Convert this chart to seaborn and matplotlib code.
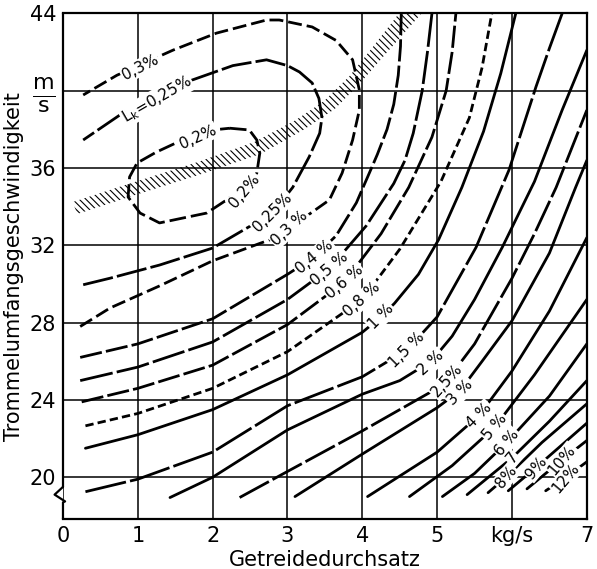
import numpy as np
import matplotlib
matplotlib.use("Agg")
import matplotlib.pyplot as plt
import seaborn as sns

# ---- data (x: Getreidedurchsatz kg/s, y: Trommelumfangsgeschwindigkeit m/s)
q020_x = [2.23, 2.49, 2.59, 2.63, 2.59, 2.43, 1.92, 1.29, 1.03, 0.87, 0.89, 0.99, 1.25, 1.65, 2.00, 2.23]
q020_y = [38.06, 37.97, 37.45, 36.78, 35.74, 34.97, 33.67, 33.16, 33.67, 34.50, 35.54, 36.26, 36.83, 37.55, 37.97, 38.06]
q025_x = [0.27, 0.63, 1.29, 2.00, 2.80, 3.07, 3.29, 3.43, 3.46, 3.42, 3.33, 3.16, 3.00, 2.72, 2.27, 1.65, 0.80, 0.27]
q025_y = [29.96, 30.30, 30.98, 31.86, 33.67, 35.00, 36.58, 37.80, 38.60, 39.60, 40.40, 40.97, 41.30, 41.60, 41.30, 40.45, 38.85, 37.45]
q030_x = [0.23, 0.63, 1.29, 2.00, 2.63, 2.99, 3.25, 3.56, 3.73, 3.87, 3.96, 3.96, 3.87, 3.65, 3.33, 2.89, 2.72, 2.05, 1.47, 0.72, 0.27]
q030_y = [27.80, 28.76, 29.90, 31.20, 32.10, 32.60, 33.50, 34.35, 35.74, 37.45, 39.00, 40.04, 41.60, 42.60, 43.30, 43.66, 43.66, 42.98, 42.10, 40.80, 39.78]
q040_x = [0.23, 1.0, 2.0, 3.0, 3.36, 3.65, 3.92, 4.10, 4.20, 4.33, 4.42, 4.48, 4.51, 4.52]
q040_y = [26.2, 26.9, 28.2, 30.5, 31.4, 32.5, 34.2, 35.8, 36.7, 38.0, 39.3, 40.8, 42.3, 44.0]
q050_x = [0.23, 1.0, 2.0, 3.0, 3.56, 4.05, 4.42, 4.57, 4.68, 4.80, 4.87, 4.93]
q050_y = [25.0, 25.7, 27.0, 29.2, 30.8, 33.0, 35.2, 36.4, 37.8, 40.0, 42.0, 44.0]
q060_x = [0.25, 1.0, 2.0, 3.0, 3.76, 4.25, 4.62, 4.93, 5.12, 5.20, 5.25]
q060_y = [23.9, 24.6, 25.8, 27.9, 30.1, 32.6, 35.0, 37.6, 40.0, 42.0, 44.0]
q080_x = [0.30, 1.0, 2.0, 3.0, 4.00, 4.50, 5.05, 5.43, 5.60, 5.73]
q080_y = [22.66, 23.3, 24.6, 26.5, 29.2, 31.8, 35.3, 38.6, 41.2, 44.0]
q100_x = [0.30, 1.0, 2.0, 3.0, 4.00, 4.25, 4.43, 4.75, 5.02, 5.33, 5.62, 5.85, 6.05]
q100_y = [21.5, 22.2, 23.5, 25.3, 27.5, 28.3, 29.0, 30.5, 32.3, 35.0, 37.9, 40.9, 44.0]
q150_x = [0.30, 1.0, 2.0, 3.0, 4.0, 4.60, 5.00, 5.52, 5.96, 6.32, 6.50, 6.67]
q150_y = [19.25, 19.9, 21.3, 23.7, 25.2, 26.6, 28.3, 31.9, 35.9, 40.2, 42.2, 44.0]
q200_x = [1.43, 2.0, 3.0, 4.0, 4.50, 4.92, 5.20, 5.50, 5.87, 6.30, 6.67, 7.0]
q200_y = [18.95, 20.0, 22.45, 24.3, 25.0, 26.0, 27.3, 29.2, 31.9, 35.3, 39.0, 42.1]
q250_x = [2.36, 3.0, 4.0, 5.0, 5.13, 5.50, 6.0, 6.30, 6.59, 7.0]
q250_y = [18.95, 20.3, 22.4, 24.6, 25.0, 26.9, 30.3, 32.6, 35.0, 39.0]
q300_x = [3.10, 4.0, 5.0, 5.31, 5.60, 6.0, 6.50, 6.85, 7.0]
q300_y = [19.0, 21.2, 23.6, 24.5, 26.0, 28.1, 31.6, 35.0, 36.4]
q400_x = [4.07, 5.0, 5.56, 6.0, 6.5, 7.0]
q400_y = [19.0, 21.3, 23.2, 25.5, 28.6, 32.4]
q500_x = [4.63, 5.2, 5.77, 6.3, 7.0]
q500_y = [19.0, 20.6, 22.6, 25.3, 29.2]
q600_x = [5.07, 5.5, 5.93, 6.5, 7.0]
q600_y = [19.0, 20.2, 21.8, 24.2, 26.9]
q700_x = [5.40, 6.0, 6.5, 7.0]
q700_y = [19.1, 21.0, 22.9, 25.0]
q800_x = [5.68, 5.92, 6.4, 7.0]
q800_y = [19.2, 20.0, 21.8, 23.8]
q900_x = [5.95, 6.32, 7.0]
q900_y = [19.3, 20.5, 22.8]
q1000_x = [6.20, 6.67, 7.0]
q1000_y = [19.4, 20.9, 21.9]
q1200_x = [6.45, 6.72, 7.0]
q1200_y = [19.3, 20.0, 20.8]

# hatched optimum band (upper and lower edge)
band_up_x = [0.13, 0.87, 1.80, 2.56, 3.11, 3.49, 3.83, 4.15, 4.49]
band_up_y = [34.24, 35.17, 36.31, 37.35, 38.48, 39.47, 40.76, 42.31, 44.0]
band_lo_x = [0.19, 0.92, 1.85, 2.64, 3.21, 3.63, 3.96, 4.31, 4.79]
band_lo_y = [33.62, 34.55, 35.69, 36.73, 37.97, 39.05, 40.35, 41.90, 44.0]

x_ticks = [0, 1, 2, 3, 4, 5, 6, 7]
x_ticklabels = ["0", "1", "2", "3", "4", "5", "kg/s", "7"]
y_ticks = [20, 24, 28, 32, 36, 40, 44]
y_ticklabels = ["20", "24", "28", "32", "36", r"$\frac{\mathrm{m}}{\mathrm{s}}$", "44"]

label_texts = ["0,3%", r"$\mathrm{L_k}$=0,25%", "0,2%", "0,2%", "0,25%", "0,3 %", "0,4 %", "0,5 %",
               "0,6 %", "0,8 %", "1 %", "1,5 %", "2 %", "2,5%", "3 %", "4 %", "5 %", "6 %", "7",
               "8%", "9%", "10%", "12%"]

# ---- styling
sns.set_theme(style="white")
plt.rcParams['font.family'] = ['DejaVu Sans']
plt.rcParams['hatch.linewidth'] = 0.8
plt.rcParams['axes.edgecolor'] = 'black'
plt.rcParams['text.color'] = 'black'
plt.rcParams['axes.labelcolor'] = 'black'

fig = plt.figure(figsize=(5.97, 5.69), dpi=100)
ax = fig.add_axes([0.1055, 0.0879, 0.8775, 0.8885])
ax.set_xlim(0, 7)
ax.set_ylim(17.84, 44)

LW = 2.0
curves = [
    (q020_x, q020_y, (0, (6, 1.8))),
    (q025_x, q025_y, (0, (11, 1.5))),
    (q030_x, q030_y, (0, (5, 1.8))),
    (q040_x, q040_y, (0, (8, 1.5))),
    (q050_x, q050_y, (0, (12, 1.5))),
    (q060_x, q060_y, (0, (8, 1.5))),
    (q080_x, q080_y, (0, (3, 1.5))),
    (q100_x, q100_y, '-'),
    (q150_x, q150_y, (0, (15, 1.5))),
    (q200_x, q200_y, '-'),
    (q250_x, q250_y, (0, (12, 1.5))),
    (q300_x, q300_y, '-'),
    (q400_x, q400_y, '-'),
    (q500_x, q500_y, '-'),
    (q600_x, q600_y, '-'),
    (q700_x, q700_y, '-'),
    (q800_x, q800_y, '-'),
    (q900_x, q900_y, '-'),
    (q1000_x, q1000_y, '-'),
    (q1200_x, q1200_y, '-'),
]

# hatched band
poly_x = list(band_up_x) + list(band_lo_x[::-1])
poly_y = list(band_up_y) + list(band_lo_y[::-1])
ax.fill(poly_x, poly_y, facecolor='none', edgecolor='black', hatch='\\\\\\\\\\', linewidth=0, zorder=1)

for xs, ys, ls in curves:
    sns.lineplot(x=xs, y=ys, sort=False, estimator=None, color='black',
                 linewidth=LW, linestyle=ls, ax=ax, zorder=3)

# labels placed on the curves
label_pos = [(1.03, 41.2, 27), (1.25, 39.55, 30), (1.80, 37.6, 24), (2.43, 34.8, 50),
             (2.80, 33.7, 45), (3.03, 32.9, 43), (3.36, 31.4, 40), (3.56, 30.8, 40),
             (3.76, 30.1, 40), (4.00, 29.2, 42), (4.25, 28.3, 45), (4.60, 26.6, 45),
             (4.92, 25.9, 42), (5.13, 25.0, 48), (5.31, 24.4, 45), (5.56, 23.2, 45),
             (5.77, 22.6, 50), (5.93, 21.8, 50), (6.00, 21.0, 50), (5.92, 20.0, 50),
             (6.32, 20.5, 50), (6.67, 20.9, 50), (6.72, 19.95, 50)]
for txt, (lx, ly, rot) in zip(label_texts, label_pos):
    ax.text(lx, ly, txt, fontsize=11, rotation=rot, ha='center', va='center',
            rotation_mode='anchor', zorder=6, color='black',
            bbox=dict(boxstyle='square,pad=0.08', fc='white', ec='none'))

# grid, ticks
ax.set_xticks(x_ticks)
ax.set_xticklabels(x_ticklabels)
ax.set_yticks(y_ticks)
ax.set_yticklabels(y_ticklabels)
ax.grid(True, color='black', linewidth=1.1, zorder=0)
ax.set_axisbelow(True)
ax.tick_params(length=0, labelsize=15, pad=5, colors='black')
for t in ax.get_yticklabels():
    if 'frac' in t.get_text():
        t.set_fontsize(23)

for s in ['top', 'right', 'bottom']:
    ax.spines[s].set_linewidth(1.6)
    ax.spines[s].set_color('black')
ax.spines['left'].set_visible(False)

# left axis with break symbol
tr = ax.get_yaxis_transform()
ax.plot([0, 0], [19.5, 44], color='black', lw=1.6, transform=tr, clip_on=False, zorder=5)
ax.plot([0, -0.016, 0.004, 0, 0], [19.5, 19.1, 18.75, 18.7, 17.84], color='black', lw=1.6,
        transform=tr, clip_on=False, zorder=5)

ax.set_xlabel("Getreidedurchsatz", fontsize=15, labelpad=3, color='black')
ax.set_ylabel("Trommelumfangsgeschwindigkeit", fontsize=15, labelpad=4, color='black')

fig.savefig("out.png", dpi=100)
